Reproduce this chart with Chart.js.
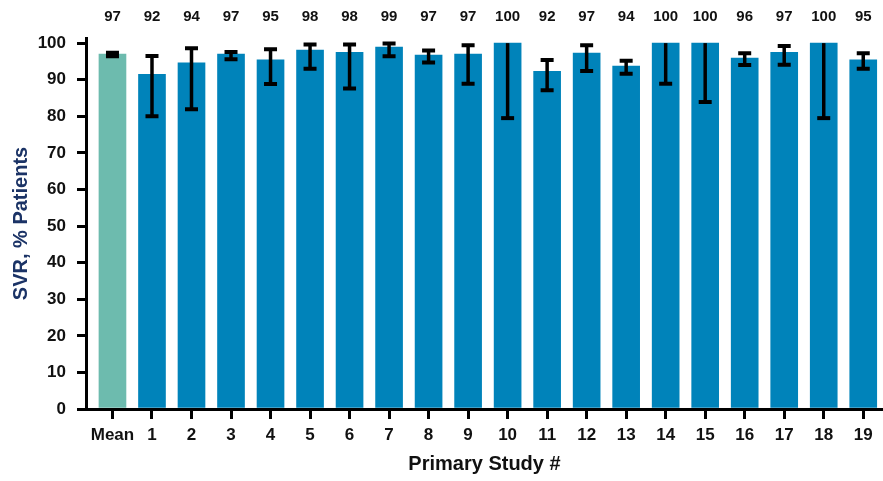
<!DOCTYPE html>
<html>
<head>
<meta charset="utf-8">
<script src="https://cdn.jsdelivr.net/npm/chart.js@4/dist/chart.umd.min.js"></script>
<style>
  html, body { margin: 0; padding: 0; background: #fff; }
  #wrap { width: 883px; height: 481px; }
</style>
</head>
<body>
<div id="wrap"><canvas id="chart" width="883" height="481"></canvas></div>
<script>
// study labels along the x axis
var studies   = ["Mean", "1", "2", "3", "4", "5", "6", "7", "8", "9", "10",
                 "11", "12", "13", "14", "15", "16", "17", "18", "19"]
// SVR (% patients)
var svr       = [97.0, 91.5, 94.6, 97.0, 95.4, 98.1, 97.5, 98.9, 96.7, 97.0, 100,
                 92.3, 97.3, 93.7, 100, 100, 95.9, 97.5, 100, 95.4]
// confidence interval ends
var ciLow     = [96.4, 80.0, 81.9, 95.6, 88.8, 93.0, 87.6, 96.4, 94.7, 88.9, 79.5,
                 87.1, 92.4, 91.6, 88.9, 83.9, 94.0, 94.1, 79.5, 93.0]
var ciHigh    = [97.4, 96.5, 98.6, 97.6, 98.3, 99.6, 99.6, 99.9, 98.0, 99.4, 100,
                 95.4, 99.4, 95.2, 100, 100, 97.2, 99.2, 100, 97.2]
// numbers printed above the plot
var topLabels = ["97", "92", "94", "97", "95", "98", "98", "99", "97", "97", "100",
                 "92", "97", "94", "100", "100", "96", "97", "100", "95"]
var yTicks    = [0, 10, 20, 30, 40, 50, 60, 70, 80, 90, 100]

var TEAL = "#6dbbae"
var BLUE = "#0083ba"
var FONT = "'Liberation Sans', Arial, sans-serif"

//////////////////////////////////////////////////////////////////////////////////////////////////

var errorBars = {
	id: "errorBars",
	afterDatasetsDraw: function(chart) {
		var ctx = chart.ctx
		var x = chart.scales.x
		var y = chart.scales.y
		ctx.save()
		ctx.strokeStyle = "#000"
		for (var i = 0; i < svr.length; i++) {
			var px = x.getPixelForValue(i)
			var lo = y.getPixelForValue(ciLow[i])
			var hi = y.getPixelForValue(ciHigh[i])
			ctx.lineWidth = 3.5
			ctx.beginPath()
			ctx.moveTo(px, hi)
			ctx.lineTo(px, lo)
			ctx.stroke()
			ctx.lineWidth = 4
			ctx.beginPath()
			ctx.moveTo(px - 6.5, lo)
			ctx.lineTo(px + 6.5, lo)
			// no top cap where the interval ends at the bar top (100 %)
			if (ciHigh[i] > svr[i]) {
				ctx.moveTo(px - 6.5, hi)
				ctx.lineTo(px + 6.5, hi)
			}
			ctx.stroke()
		}
		ctx.restore()
	}
}

var valueRow = {
	id: "valueRow",
	afterDraw: function(chart) {
		var ctx = chart.ctx
		var x = chart.scales.x
		ctx.save()
		ctx.fillStyle = "#111"
		ctx.font = "bold 15px " + FONT
		ctx.textAlign = "center"
		ctx.textBaseline = "middle"
		for (var i = 0; i < topLabels.length; i++) {
			ctx.fillText(topLabels[i], x.getPixelForValue(i), 17)
		}
		ctx.restore()
	}
}

var points = svr.map(function(v, i) { return { x: i, y: v } })

new Chart(document.getElementById("chart"), {
	type: "bar",
	data: {
		datasets: [{
			data: points,
			backgroundColor: svr.map(function(v, i) { return i === 0 ? TEAL : BLUE }),
			borderWidth: 0,
			barThickness: 27
		}]
	},
	options: {
		responsive: false,
		animation: false,
		layout: { padding: { top: 38, right: 0, left: 0, bottom: 0 } },
		plugins: { legend: { display: false }, tooltip: { enabled: false } },
		scales: {
			x: {
				type: "linear",
				offset: false,
				min: -0.67,
				max: 19.5,
				afterBuildTicks: function(scale) {
					scale.ticks = studies.map(function(s, i) { return { value: i } })
				},
				afterFit: function(scale) { scale.height = 72 },
				ticks: {
					autoSkip: false,
					maxRotation: 0,
					padding: 6,
					color: "#111",
					font: { family: FONT, size: 17, weight: "bold" },
					callback: function(v) { return studies[v] }
				},
				grid: { offset: false, drawOnChartArea: false, drawTicks: true, tickLength: 10, lineWidth: 3, color: "#000" },
				border: { display: true, width: 3, color: "#000" },
				title: {
					display: true,
					text: "Primary Study #",
					color: "#111",
					padding: { top: 0, bottom: 5 },
					font: { family: FONT, size: 20, weight: "bold" }
				}
			},
			y: {
				min: 0,
				max: 101.4,
				afterBuildTicks: function(scale) {
					scale.ticks = yTicks.map(function(v) { return { value: v } })
				},
				afterFit: function(scale) { scale.width = 86 },
				ticks: {
					padding: 11,
					color: "#111",
					font: { family: FONT, size: 17, weight: "bold" }
				},
				grid: { drawOnChartArea: false, drawTicks: true, tickLength: 9, lineWidth: 3, color: "#000" },
				border: { display: true, width: 3, color: "#000" },
				title: {
					display: true,
					text: "SVR, % Patients",
					color: "#1b3366",
					padding: { top: 9, bottom: 0 },
					font: { family: FONT, size: 20, weight: "bold" }
				}
			}
		}
	},
	plugins: [errorBars, valueRow]
})
</script>
</body>
</html>
